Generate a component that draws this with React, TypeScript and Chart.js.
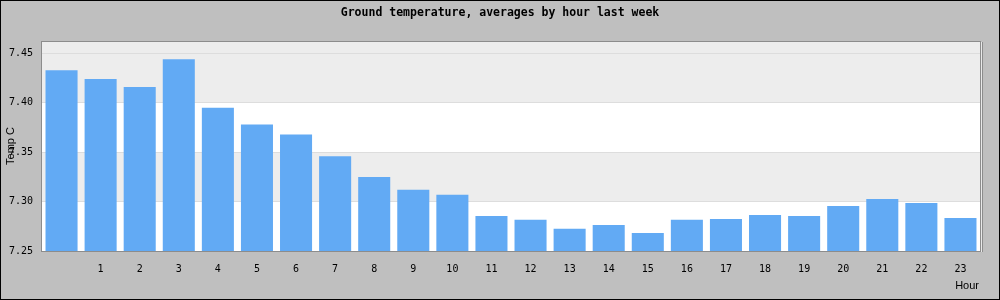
import React, { useEffect, useRef } from "react";
import { Chart, registerables } from "chart.js";

Chart.register(...registerables);

const hours: string[] = ["", "1", "2", "3", "4", "5", "6", "7", "8", "9", "10", "11", "12", "13", "14", "15", "16", "17", "18", "19", "20", "21", "22", "23"];
const temps: number[] = [7.433, 7.424, 7.416, 7.444, 7.395, 7.378, 7.368, 7.346, 7.325, 7.312, 7.307, 7.2855, 7.2815, 7.2724, 7.2764, 7.2683, 7.2815, 7.2825, 7.2865, 7.2855, 7.2956, 7.3027, 7.2987, 7.2835];
const yTicks: number[] = [7.25, 7.3, 7.35, 7.4, 7.45];
const grayBands: [number, number][] = [[7.3, 7.35], [7.4, 7.4615]];
const titleText = "Ground temperature, averages by hour last week";
const yTitle = "Temp C";
const xTitle = "Hour";

const framePlugin = {
  id: "framePlugin",
  beforeDraw(chart: any) {
    const { ctx, chartArea: a, scales } = chart;
    const y = scales.y;
    ctx.save();
    ctx.fillStyle = "#BFBFBF";
    ctx.fillRect(0, 0, chart.width, chart.height);
    ctx.fillStyle = "#FFFFFF";
    ctx.fillRect(a.left, a.top, a.right - a.left, a.bottom - a.top);
    ctx.fillStyle = "#EDEDED";
    for (const [lo, hi] of grayBands) {
      const y1 = y.getPixelForValue(hi);
      const y2 = y.getPixelForValue(lo);
      const t = Math.max(a.top, y1);
      ctx.fillRect(a.left, t, a.right - a.left, y2 - t);
    }
    ctx.restore();
  },
  afterDraw(chart: any) {
    const { ctx, chartArea: a } = chart;
    ctx.save();
    ctx.strokeStyle = "#8C8C8C";
    ctx.lineWidth = 1;
    ctx.strokeRect(Math.round(a.left) - 0.5, Math.round(a.top) - 0.5, Math.round(a.right - a.left) + 1, Math.round(a.bottom - a.top) + 1);
    ctx.strokeStyle = "#E8E8E8";
    ctx.beginPath();
    ctx.moveTo(Math.round(a.right) + 1.5, Math.round(a.top));
    ctx.lineTo(Math.round(a.right) + 1.5, Math.round(a.bottom) + 1);
    ctx.stroke();
    ctx.strokeStyle = "#8C8C8C";
    ctx.beginPath();
    ctx.moveTo(Math.round(a.right) + 2.5, Math.round(a.top));
    ctx.lineTo(Math.round(a.right) + 2.5, Math.round(a.bottom) + 1);
    ctx.stroke();
    // outer frame
    ctx.strokeStyle = "#000000";
    ctx.strokeRect(0.5, 0.5, chart.width - 1, chart.height - 1);
    // title
    ctx.fillStyle = "#000000";
    ctx.font = "bold 11.5px 'DejaVu Sans Mono'";
    ctx.textAlign = "center";
    ctx.textBaseline = "middle";
    ctx.fillText(titleText, 500, 13);
    // axis titles
    ctx.font = "11px 'Liberation Sans'";
    ctx.textAlign = "right";
    ctx.fillText(xTitle, 979, 286);
    ctx.translate(11, 146);
    ctx.rotate(-Math.PI / 2);
    ctx.textAlign = "center";
    ctx.fillText(yTitle, 0, 0);
    ctx.restore();
  },
};

export default function App() {
  const ref = useRef<HTMLCanvasElement>(null);
  useEffect(() => {
    document.body.style.margin = "0";
    const chart = new Chart(ref.current!, {
      type: "bar",
      data: {
        labels: hours,
        datasets: [
          {
            data: temps,
            backgroundColor: "#62AAF4",
            borderWidth: 0,
            barPercentage: 0.82,
            categoryPercentage: 1,
          },
        ],
      },
      options: {
        responsive: false,
        animation: false,
        layout: { padding: { top: 42, right: 20, bottom: 0, left: 0 } },
        plugins: { legend: { display: false }, title: { display: false }, tooltip: { enabled: false } },
        scales: {
          x: {
            grid: { display: false, drawTicks: false },
            border: { display: false },
            ticks: {
              color: "#000000",
              font: { family: "'DejaVu Sans Mono'", size: 10 },
              maxRotation: 0,
              autoSkip: false,
              padding: 12,
            },
            afterFit: (s: any) => {
              s.height = 49;
            },
          },
          y: {
            min: 7.25,
            max: 7.4615,
            grid: {
              color: (c: any) => (Math.abs(c.tick.value - 7.25) < 1e-6 ? "rgba(0,0,0,0)" : "#DDDDDD"),
              drawTicks: false,
            },
            border: { display: false },
            ticks: {
              stepSize: 0.05,
              color: "#000000",
              font: { family: "'DejaVu Sans Mono'", size: 10 },
              padding: 9,
              callback: (v: any) => Number(v).toFixed(2),
            },
            afterBuildTicks: (s: any) => {
              s.ticks = yTicks.map((v) => ({ value: v }));
            },
            afterFit: (s: any) => {
              s.width = 42;
            },
          },
        },
      },
      plugins: [framePlugin],
    });
    return () => chart.destroy();
  }, []);
  return <canvas ref={ref} width={1000} height={300} style={{ display: "block" }} />;
}
